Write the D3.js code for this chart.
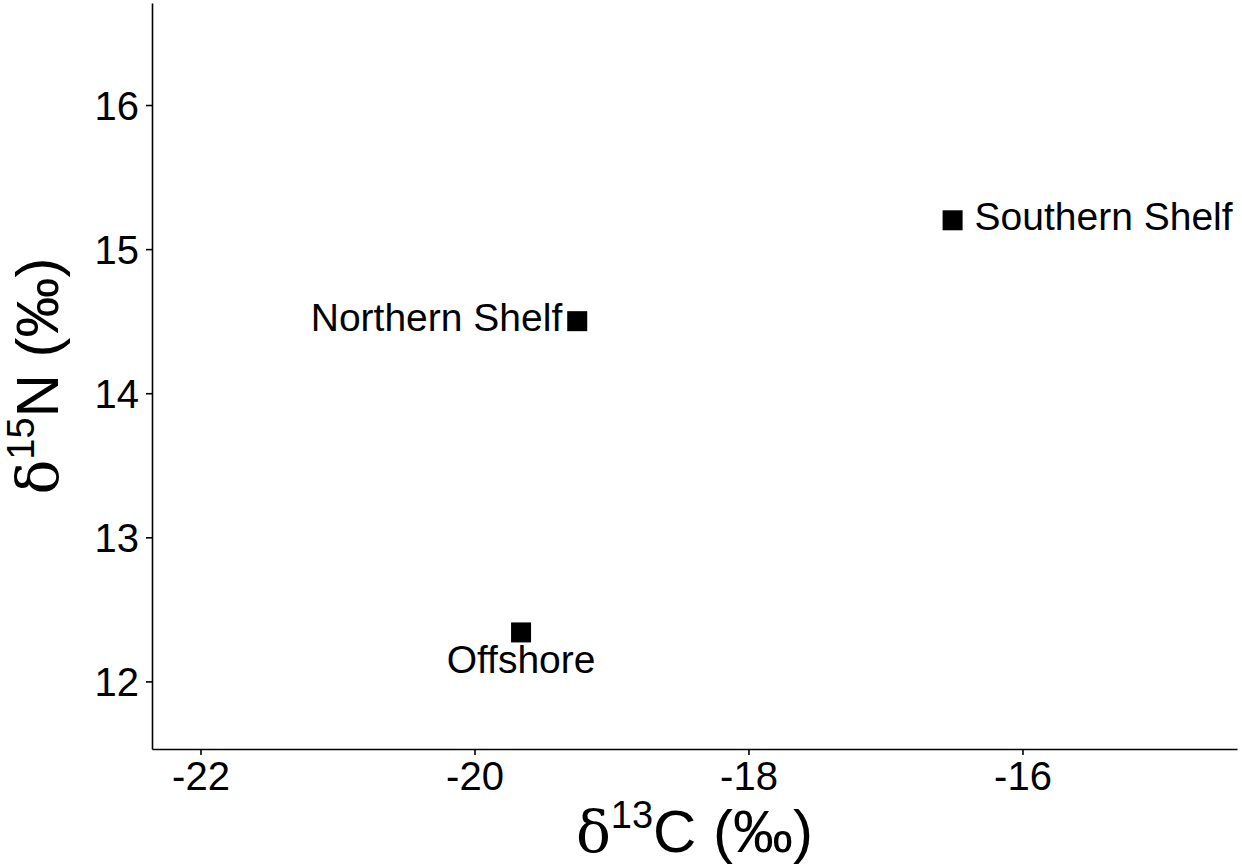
<!DOCTYPE html>
<html>
<head>
<meta charset="utf-8">
<script src="https://cdn.jsdelivr.net/npm/d3@7"></script>
<style>
    body { margin: 0; background: #fff; }
    svg { display: block; }
    text { font-family: "Liberation Sans", Arial, sans-serif; fill: #000; }
</style>
</head>
<body>
<script>
// data
const sites = ["Southern Shelf", "Northern Shelf", "Offshore"];
const d13C = [-16.51, -19.25, -19.66];
const d15N = [15.2, 14.5, 12.34];
const xTicks = [-22, -20, -18, -16];
const yTicks = [12, 13, 14, 15, 16];

let wSvg = 1242;
let hSvg = 865;
let pLeft = 152, pRight = 1237, pTop = 3, pBottom = 749;

let svg = d3.select("body").append("svg")
    .attr("width", wSvg)
    .attr("height", hSvg);

let x = d3.scaleLinear().domain([-22.354, -14.434]).range([pLeft, pRight]);
let y = d3.scaleLinear().domain([11.531, 16.708]).range([pBottom, pTop]);

// axes
let xAxis = svg.append("g")
    .attr("transform", `translate(0,${pBottom})`)
    .call(d3.axisBottom(x).tickValues(xTicks).tickSize(6).tickPadding(6)
        .tickFormat(d => String(d)).tickSizeOuter(0));
let yAxis = svg.append("g")
    .attr("transform", `translate(${pLeft},0)`)
    .call(d3.axisLeft(y).tickValues(yTicks).tickSize(6).tickPadding(7)
        .tickFormat(d => String(d)).tickSizeOuter(0));

[xAxis, yAxis].forEach(g => {
    g.select(".domain").attr("stroke", "#000").attr("stroke-width", 1.6);
    g.selectAll(".tick line").attr("stroke", "#000").attr("stroke-width", 1.6);
    g.selectAll(".tick text")
        .style("font-family", "'Liberation Sans', Arial, sans-serif")
        .style("font-size", "40px")
        .attr("fill", "#000");
});
xAxis.selectAll(".tick text").attr("dy", "0.72em");
yAxis.selectAll(".tick text").attr("dy", "0.36em");

// points
let sq = 20;
let points = sites.map((s, i) => ({ name: s, cx: d13C[i], cy: d15N[i] }));

svg.append("g").selectAll("rect")
    .data(points)
    .enter()
    .append("rect")
    .attr("x", d => x(d.cx) - sq / 2)
    .attr("y", d => y(d.cy) - sq / 2)
    .attr("width", sq)
    .attr("height", sq)
    .attr("fill", "#000");

// label placement (pixels from the point)
const labelPos = {
    "Southern Shelf": { dx: 22, dy: 10, anchor: "start" },
    "Northern Shelf": { dx: -15, dy: 10, anchor: "end" },
    "Offshore": { dx: 0, dy: 41, anchor: "middle" }
};

svg.append("g").selectAll("text")
    .data(points)
    .enter()
    .append("text")
    .attr("x", d => x(d.cx) + labelPos[d.name].dx)
    .attr("y", d => y(d.cy) + labelPos[d.name].dy)
    .attr("text-anchor", d => labelPos[d.name].anchor)
    .style("font-size", "39px")
    .text(d => d.name);

// axis titles
let xt = svg.append("text")
    .attr("x", (pLeft + pRight) / 2)
    .attr("y", 852)
    .attr("text-anchor", "middle")
    .style("font-size", "60px");
xt.append("tspan").style("font-family", "'DejaVu Serif', 'Liberation Serif', serif").style("font-size", "58px").text("δ");
xt.append("tspan").attr("dy", -24).style("font-size", "38px").text("13");
xt.append("tspan").attr("dy", 24).text("C (‰)");

let yt = svg.append("text")
    .attr("transform", `translate(58,${(pTop + pBottom) / 2}) rotate(-90)`)
    .attr("text-anchor", "middle")
    .style("font-size", "60px");
yt.append("tspan").style("font-family", "'DejaVu Serif', 'Liberation Serif', serif").style("font-size", "58px").text("δ");
yt.append("tspan").attr("dy", -24).style("font-size", "38px").text("15");
yt.append("tspan").attr("dy", 24).text("N (‰)");
</script>
</body>
</html>
